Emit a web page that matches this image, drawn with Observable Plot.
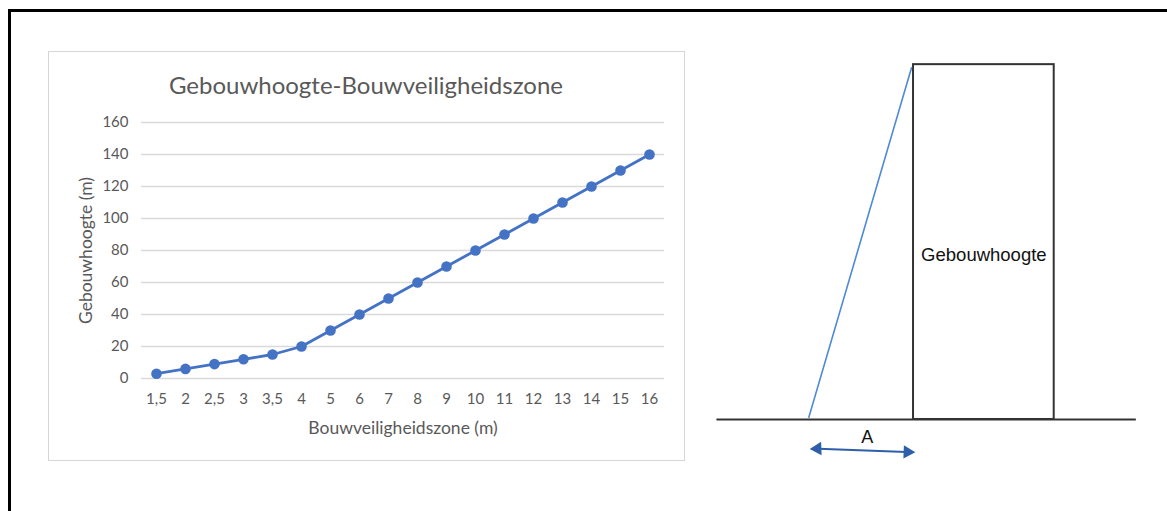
<!DOCTYPE html>
<html>
<head>
<meta charset="utf-8">
<script src="https://cdn.jsdelivr.net/npm/d3@7"></script>
<script src="https://cdn.jsdelivr.net/npm/@observablehq/plot@0.6"></script>
<style>
  html, body { margin: 0; padding: 0; background: #fff; }
  #page { position: relative; width: 1167px; height: 511px; overflow: hidden; background: #fff; }
  #frame { position: absolute; left: 8px; top: 9px; width: 1200px; height: 600px;
           border-left: 3px solid #000; border-top: 3px solid #000; }
  #panel { position: absolute; left: 48px; top: 51px; width: 635px; height: 408px;
           border: 1.5px solid #d6d6d6; }
  #title { position: absolute; left: 48px; top: 70px; width: 636px; text-align: center; line-height: 30px;
           font-family: Lato, "Open Sans", sans-serif; font-size: 24px; color: #595959; }
  #chart { position: absolute; left: 48px; top: 100px; }
  #diagram { position: absolute; left: 700px; top: 40px; }
</style>
</head>
<body>
<div id="page">
  <div id="frame"></div>
  <div id="panel"></div>
  <div id="title">Gebouwhoogte-Bouwveiligheidszone</div>
  <div id="chart"></div>
  <div id="diagram"></div>
</div>
<script>
// ---- chart data ----
const zoneLabels = ["1,5","2","2,5","3","3,5","4","5","6","7","8","9","10","11","12","13","14","15","16"];
const buildingHeights = [3,6,9,12,15,20,30,40,50,60,70,80,90,100,110,120,130,140];
const yTicks = [0,20,40,60,80,100,120,140,160];
const xTitle = "Bouwveiligheidszone (m)";
const yTitle = "Gebouwhoogte (m)";

// ---- schematic diagram data (schematic units) ----
const groundX = [-18.7, 21.1];
const buildingX = [0, 13.4];
const buildingTop = 33.8;
const slopeX = [-9.97, -0.19];
const slopeY = [0.22, 33.5];
const arrowX = [-9.65, -0.07];
const arrowY = [-2.78, -3.1];
const buildingLabel = "Gebouwhoogte";
const zoneLabel = "A";

const data = zoneLabels.map((z, i) => ({zone: z, height: buildingHeights[i]}));

const chart = Plot.plot({
  width: 636, height: 355,
  marginLeft: 93, marginRight: 20, marginTop: 22, marginBottom: 77,
  style: {fontFamily: "Lato, 'Open Sans', sans-serif", fontSize: "15px", color: "#595959", background: "transparent", overflow: "visible"},
  x: {type: "point", domain: zoneLabels, padding: 0.5},
  y: {domain: [0, 160]},
  marks: [
    Plot.gridY(yTicks, {stroke: "#d9d9d9", strokeOpacity: 1, strokeWidth: 1.3}),
    Plot.axisY(yTicks, {tickSize: 0, tickPadding: 13, label: null, fill: "#595959", fontSize: 15}),
    Plot.axisX({tickSize: 0, tickPadding: 15, label: null, fill: "#595959", fontSize: 15}),
    Plot.text([xTitle], {frameAnchor: "bottom", textAnchor: "middle", lineAnchor: "middle", dy: 50, fontSize: 17.5, fill: "#595959"}),
    Plot.text([yTitle], {frameAnchor: "left", textAnchor: "middle", lineAnchor: "middle", dx: -55, rotate: -90, fontSize: 17.5, fill: "#595959"}),
    Plot.line(data, {x: "zone", y: "height", stroke: "#4472c4", strokeWidth: 2.8}),
    Plot.dot(data, {x: "zone", y: "height", fill: "#4472c4", r: 5.3})
  ]
});
document.getElementById("chart").appendChild(chart);

const diagram = Plot.plot({
  width: 467, height: 430,
  margin: 0,
  style: {background: "transparent", overflow: "visible", fontFamily: "'Liberation Sans', Arial, sans-serif"},
  x: {domain: [-20.29, 24.19], axis: null},
  y: {domain: [-4.86, 36.1], axis: null},
  marks: [
    Plot.line([[groundX[0], 0], [groundX[1], 0]], {stroke: "#333", strokeWidth: 2}),
    Plot.rect([{x1: buildingX[0], x2: buildingX[1], y1: 0, y2: buildingTop}],
      {x1: "x1", x2: "x2", y1: "y1", y2: "y2", fill: "none", stroke: "#333", strokeWidth: 2}),
    Plot.line([[slopeX[0], slopeY[0]], [slopeX[1], slopeY[1]]], {stroke: "#4f8ad6", strokeWidth: 1.6}),
    Plot.line([[arrowX[0] + 0.6, arrowY[0]], [arrowX[1] - 0.6, arrowY[1]]], {stroke: "#2f5fa8", strokeWidth: 2}),
    Plot.dot([[arrowX[0] + 0.5, arrowY[0]]], {x: d => d[0], y: d => d[1], symbol: "triangle", r: 5, fill: "#2f5fa8", rotate: -92}),
    Plot.dot([[arrowX[1] - 0.5, arrowY[1]]], {x: d => d[0], y: d => d[1], symbol: "triangle", r: 5, fill: "#2f5fa8", rotate: 92}),
    Plot.text([buildingLabel], {x: (buildingX[0] + buildingX[1]) / 2, y: 15.7, fontSize: 18.5, fill: "#111"}),
    Plot.text([zoneLabel], {x: -4.4, y: -1.7, fontSize: 18, fill: "#111"})
  ]
});
document.getElementById("diagram").appendChild(diagram);
</script>
</body>
</html>
